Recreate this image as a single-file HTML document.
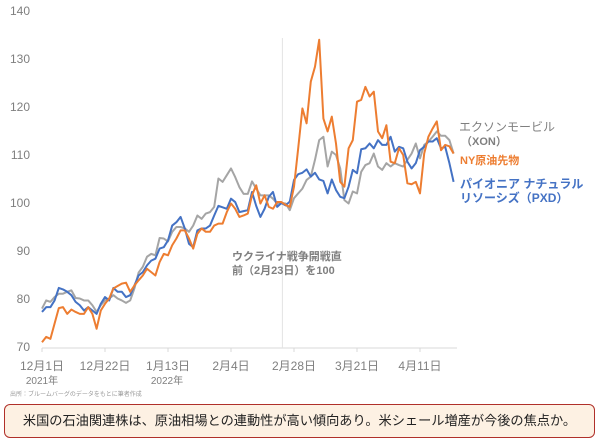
<!DOCTYPE html>
<html><head><meta charset="utf-8">
<style>
body{margin:0;background:#fff;width:600px;height:442px;overflow:hidden;font-family:"Liberation Sans","Noto Sans CJK JP",sans-serif}
svg text{font-family:"Liberation Sans","Noto Sans CJK JP",sans-serif}
#caption{position:absolute;left:4px;top:404px;width:589px;height:32px;border:1.5px solid #b0302a;border-radius:6px;background:#fdf1e3;font-size:13.2px;color:#222;line-height:32px;text-align:center;white-space:nowrap;font-family:"Liberation Sans","Noto Sans CJK JP",sans-serif}
</style></head><body>
<svg id="chart" width="600" height="400" style="position:absolute;left:0;top:0"></svg>
<div id="caption">米国の石油関連株は、原油相場との連動性が高い傾向あり。米シェール増産が今後の焦点か。</div>
<script>
const yTicks=[70,80,90,100,110,120,130,140];
const xTickIdx=[0,15,30,45,60,75,90];
const xTickLabels=["12月1日","12月22日","1月13日","2月4日","2月28日","3月21日","4月11日"];
const pxd=[77.3,78.3,78.3,79.7,82.3,82,81.5,80.8,79.4,78.7,77.6,78.3,77.6,76.9,79,80.4,79.7,82.3,81.5,81.5,80.4,80.8,82.8,84.9,85.6,87,88,88.4,90.5,90.8,92.2,95.3,96,97.1,94.7,91.5,90.8,94.3,94.7,94.7,95.3,97.4,99.4,99.1,98.8,100.9,100.2,98.1,98.3,98.5,102.3,99.4,97.1,98.8,101.3,102.3,99.2,100,99.5,100.3,104.8,106,106.3,107,105.5,106.3,104.9,104.6,102,104.9,102.7,101.3,101,103.4,106.9,106.2,111.2,111.4,112.4,111.4,113.1,112.1,112.1,113.8,110.7,111.7,111.4,108.6,107.2,108.3,111,111.7,112.8,112.8,113.5,111.4,111.7,108.3,104.4];
const xon=[78,79.7,79.4,80.4,81.1,81.1,81.5,81.8,80.2,80.1,79.7,79.7,78.7,77.3,78.7,79.7,80.1,80.8,80.1,79.7,79.2,79.7,82.2,85.5,86.7,88.8,89.4,89.1,92.7,92.6,92,94,95,95,94.7,94,95.3,97.4,96.7,97.8,98.1,99.2,105.1,104.4,105.8,107.2,105.4,103.3,101.9,101.9,104.5,103,101.6,101.6,101.6,100.9,99.9,100,99.9,98.5,101,102,103,104.8,105.5,109,113.1,113.8,107.6,110.7,110,107.2,100.6,99.9,102.4,102,106.5,107.9,108.3,110.3,107.6,106.9,108.3,107.6,108.3,107.9,107.6,109,110.3,112.4,109.3,112.1,112.8,113.8,114.9,114,114,113.1,110.3];
const oil=[71,72.1,71.7,74.9,78.1,78.3,76.9,77.8,77.3,76.9,76.9,78.3,76.9,73.8,77.6,79,80.1,82.2,82.7,83.2,83.4,81.5,82.8,83.9,84.9,86.3,85.6,84.9,87.7,89.4,89.1,91.2,92.6,94.3,94.3,92.6,90.5,93.6,94.7,94,94,95.3,95.7,95.7,98.1,99.9,98.8,97.1,97.4,97.8,101.6,103.7,99.9,101.6,99.2,98.8,100.2,100.2,99.6,99.2,103.4,111.4,119.7,116.6,125.3,128.4,134,117.6,114.9,118,112.4,104.4,103.4,111.4,113.1,121.1,121.5,124.2,122.2,123.2,114.9,113.5,116.2,108.6,108.3,111.4,110,104.1,103.9,104.4,102,110.3,113.8,115.5,117,111,112.1,111.8,110.3];

const svg=document.getElementById('chart');
const NS='http://www.w3.org/2000/svg';
const X=i=>42+4.2*i;
const Y=v=>347-(v-70)*4.8;
function mk(tag,attrs,parent){const e=document.createElementNS(NS,tag);for(const k in attrs)e.setAttribute(k,attrs[k]);(parent||svg).appendChild(e);return e;}

yTicks.forEach(v=>{
  const t=mk('text',{x:30,y:Y(v)+4,'text-anchor':'end','font-size':12,fill:'#7f7f7f'});
  
  
  t.textContent=v;
});
const ax=mk('line',{x1:42,x2:457,y1:348,y2:348,stroke:'#d9d9d9','stroke-width':1});


xTickIdx.forEach((ix,k)=>{
  const tk=mk('line',{x1:X(ix),x2:X(ix),y1:348,y2:352,stroke:'#d9d9d9'});
  
  
  const t=mk('text',{x:X(ix),y:370,'text-anchor':'middle','font-size':12,fill:'#7f7f7f'});
  
  
  t.textContent=xTickLabels[k];
});
const vl=mk('line',{x1:X(57)+1,x2:X(57)+1,y1:38,y2:348,stroke:'#e3e3e3','stroke-width':1});



function series(arr,color,name){
  const p=mk('polyline',{points:arr.map((v,i)=>X(i)+','+Y(v)).join(' '),fill:'none',stroke:color,'stroke-width':2,'stroke-linejoin':'round'});
  
  
}
series(xon,'#a5a5a5','line-xon');
series(pxd,'#4472c4','line-pxd');
series(oil,'#ed7d31','line-oil');

function txt(x,y,s,size,color,w,name,anchor){
  const t=mk('text',{x:x,y:y,'font-size':size,fill:color,'font-weight':w||'normal','text-anchor':anchor||'start'});
  
  
  t.textContent=s;
}
txt(42,384,'2021年',10,'#7f7f7f','normal','year-label-2021','middle');
txt(167,384,'2022年',10,'#7f7f7f','normal','year-label-2022','middle');
txt(10,396,'出所：ブルームバーグのデータをもとに筆者作成',6,'#999','normal','source-note');
txt(232,260,'ウクライナ戦争開戦直',11,'#7f7f7f','bold','annotation-line1');
txt(232,274,'前（2月23日）を100',11,'#7f7f7f','bold','annotation-line2');
txt(459,131,'エクソンモービル',12,'#7f7f7f','normal','legend-xon');
txt(461,145,'（XON）',11,'#7f7f7f','bold','legend-xon-ticker');
txt(460,164,'NY原油先物',11,'#ed7d31','bold','legend-oil');
txt(460,188,'パイオニア ナチュラル',12,'#4472c4','bold','legend-pxd');
txt(460,202,'リソーシズ（PXD）',12,'#4472c4','bold','legend-pxd-ticker');
</script>
</body></html>
